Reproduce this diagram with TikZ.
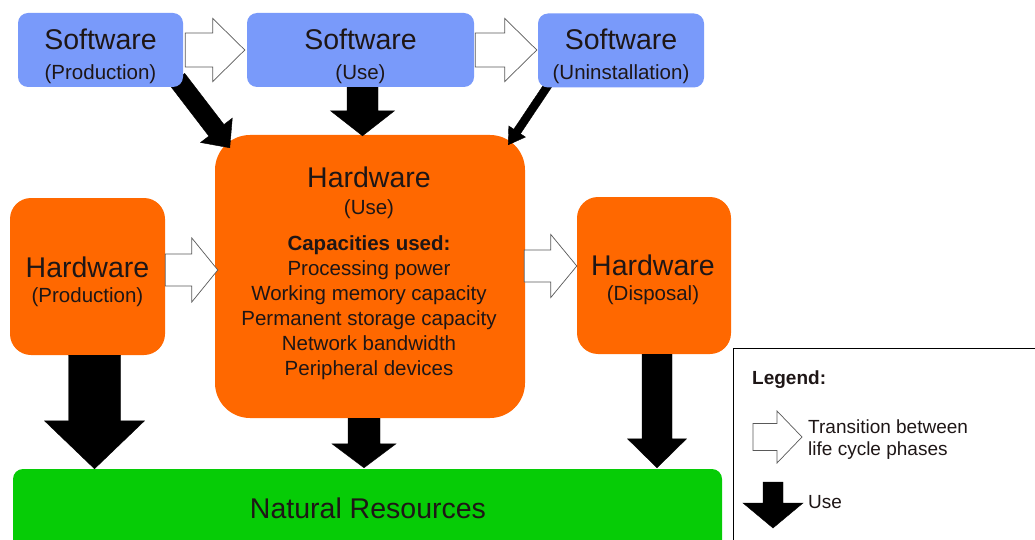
\documentclass[tikz,border=0pt]{standalone}
\usepackage{fontspec}
\setmainfont{Liberation Sans}
\usetikzlibrary{calc}
\definecolor{LifeCycleBlue}{RGB}{121,154,250}
\definecolor{LifeCycleOrange}{RGB}{255,104,0}
\definecolor{LifeCycleGreen}{RGB}{6,204,6}
\definecolor{LifeCycleText}{RGB}{30,22,22}
\newcommand{\phasefont}{\fontsize{28.5}{34}\selectfont}
\newcommand{\stagefont}{\fontsize{20.5}{25}\selectfont}
\newcommand{\listfont}{\fontsize{20.5}{25}\selectfont}
\newcommand{\keyfont}{\fontsize{19}{23}\selectfont}
\pgfdeclarelayer{back}
\pgfdeclarelayer{mid}
\pgfsetlayers{back,mid,main}

\begin{document}
\begin{tikzpicture}[x=1pt,y=-1pt,
  phase/.style n args={4}{fill=#1,minimum width=#2,minimum height=#3,rounded corners=#4,inner sep=0pt},
  txt/.style={anchor=base,inner sep=0pt,text=LifeCycleText},
  blockarrow/.style n args={3}{to path={let \p1=(\tikztostart),\p2=(\tikztotarget) in
    ($(\p1)!#1!90:(\p2)$) -- ($($(\p2)!#3!(\p1)$)!#1!90:(\p2)$)
    -- ($($(\p2)!#3!(\p1)$)!#2!90:(\p2)$) -- (\p2)
    -- ($($(\p2)!#3!(\p1)$)!#2!-90:(\p2)$) -- ($($(\p2)!#3!(\p1)$)!#1!-90:(\p2)$)
    -- ($(\p1)!#1!-90:(\p2)$) -- cycle}},
  usearrow/.style n args={3}{fill=black,blockarrow={#1}{#2}{#3}},
  passarrow/.style n args={3}{fill=white,draw=black!65,line width=0.7pt,blockarrow={#1}{#2}{#3}}]
\path[use as bounding box] (0,0) rectangle (1035,540);

% hardware phases and natural resources
\begin{pgfonlayer}{back}
  \node[phase={LifeCycleGreen}{709pt}{90pt}{10pt}] (nature) at (367.5,514) {};
  \node[phase={LifeCycleOrange}{155pt}{157pt}{21pt}] (hwprod) at (87.5,276.5) {};
  \node[phase={LifeCycleOrange}{310pt}{283pt}{35pt}] (hwuse) at (370,276.5) {};
  \node[phase={LifeCycleOrange}{154pt}{157pt}{21pt}] (hwdisp) at (654,275.5) {};
\end{pgfonlayer}

% software phases
\node[phase={LifeCycleBlue}{165pt}{74pt}{10pt}] (swprod) at (100.5,50) {};
\node[phase={LifeCycleBlue}{227pt}{74pt}{10pt}] (swuse) at (360.5,50) {};
\node[phase={LifeCycleBlue}{166pt}{74pt}{10pt}] (swuninst) at (621,50.5) {};

% use
\begin{pgfonlayer}{mid}
  \draw[usearrow={9.5pt}{20pt}{22pt}] ($(swprod.south east)+(-6,-8)$) to ($(hwuse.north west)+(15,13)$);
  \draw[usearrow={15.5pt}{32pt}{25pt}] ($(swuse.south)+(2,0)$) to ($(swuse.south |- hwuse.north)+(2,1)$);
  \draw[usearrow={4pt}{10pt}{16pt}] ($(swuninst.south west)+(12,-5)$) to ($(hwuse.north east)+(-17,10)$);
  \draw[usearrow={26pt}{50pt}{48pt}] ($(hwprod.south)+(7,0)$) to ($(hwprod.south |- nature.north)+(7,0)$);
  \draw[usearrow={16pt}{32pt}{24pt}] ($(hwuse.south)+(-6,0)$) to ($(hwuse.south |- nature.north)+(-6,-1)$);
  \draw[usearrow={15pt}{29.5pt}{29pt}] ($(hwdisp.south)+(3,0)$) to ($(hwdisp.south |- nature.north)+(3,-1)$);
\end{pgfonlayer}

% transitions
\draw[passarrow={17pt}{31.5pt}{32pt}] ($(swprod.east)+(2,0)$) to ($(swuse.west)+(-2,0)$);
\draw[passarrow={17pt}{31.5pt}{32pt}] ($(swuse.east)+(1,0)$) to ($(swuninst.west)+(-1,-0.5)$);
\draw[passarrow={16pt}{32pt}{26pt}] ($(hwprod.east)+(0,-6.5)$) to ($(hwuse.west)+(3,-6.5)$);
\draw[passarrow={16pt}{31.5pt}{26pt}] ($(hwuse.east)+(-1,-10.5)$) to ($(hwdisp.west)+(0,-9.5)$);

% labels
\node[txt,font=\phasefont] (tswprod) at (100.5,50) {Software};
\node[txt,font=\stagefont] (sswprod) at (100.5,80) {(Production)};
\node[txt,font=\phasefont] (tswuse) at (360.5,50) {Software};
\node[txt,font=\stagefont] (sswuse) at (360.5,80) {(Use)};
\node[txt,font=\phasefont] (tswuninst) at (621,50) {Software};
\node[txt,font=\stagefont] (sswuninst) at (621,80) {(Uninstallation)};
\node[txt,font=\phasefont] (thwprod) at (87.5,277) {Hardware};
\node[txt,font=\stagefont] (shwprod) at (87.5,302) {(Production)};
\node[txt,font=\phasefont] (thwuse) at (369,188) {Hardware};
\node[txt,font=\stagefont] (shwuse) at (369,214) {(Use)};
\node[txt,font=\listfont\bfseries] (caphead) at (369,250) {Capacities used:};
\foreach \capline [count=\i] in {Processing power,Working memory capacity,Permanent storage capacity,Network bandwidth,Peripheral devices}
  \node[txt,font=\listfont] (cap\i) at (369,250+25*\i) {\capline};
\node[txt,font=\phasefont] (thwdisp) at (653,275) {Hardware};
\node[txt,font=\stagefont] (shwdisp) at (653,300) {(Disposal)};
\node[txt,font=\phasefont] (tnature) at (368,518) {Natural Resources};

% legend
\node[draw=black,line width=0.8pt,anchor=north west,minimum width=320pt,minimum height=210pt,inner sep=0pt] (legend) at (733,348) {};
\node[txt,font=\keyfont\bfseries,anchor=base west] (lgtitle) at (752,384) {Legend:};
\coordinate (lgpassa) at (753,437);
\coordinate (lgpassb) at (802,437);
\coordinate (lgusea) at (773,482);
\coordinate (lguseb) at (773,528);
\draw[passarrow={13.5pt}{26pt}{25pt}] (lgpassa) to (lgpassb);
\draw[usearrow={10pt}{30pt}{25pt}] (lgusea) to (lguseb);
\node[txt,font=\keyfont,anchor=base west] (lgpass1) at (808,433) {Transition between};
\node[txt,font=\keyfont,anchor=base west] (lgpass2) at (808,455) {life cycle phases};
\node[txt,font=\keyfont,anchor=base west] (lguse) at (808,508) {Use};
\end{tikzpicture}
\end{document}
